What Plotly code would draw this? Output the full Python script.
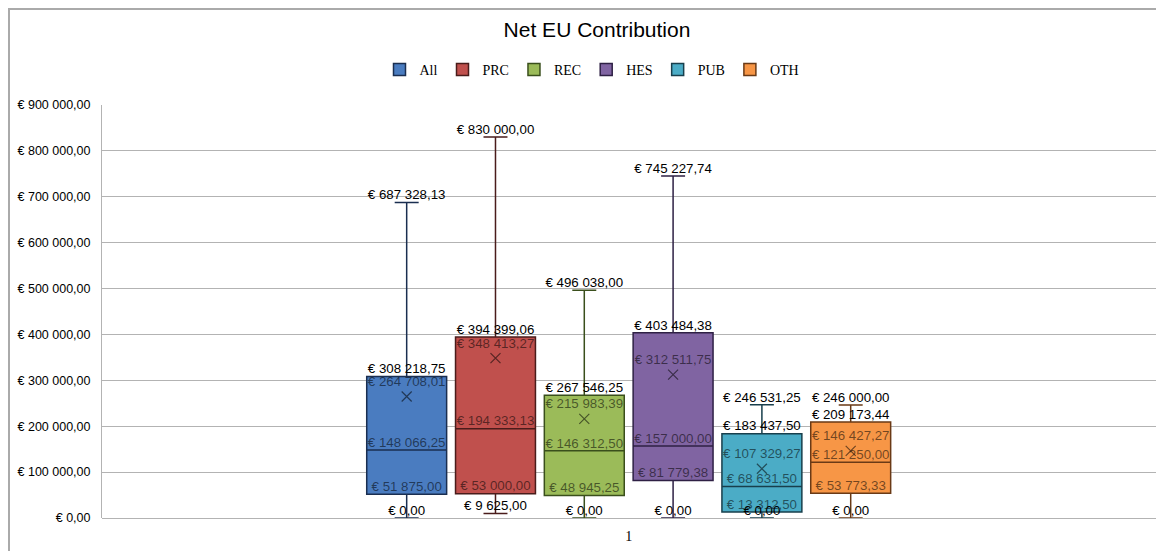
import plotly.graph_objects as go

# ---- data ----
categories = ["1"]
series = ["All", "PRC", "REC", "HES", "PUB", "OTH"]
mins = [0.00, 9625.00, 0.00, 0.00, 0.00, 0.00]
q1s = [51875.00, 53000.00, 48945.25, 81779.38, 13312.50, 53773.33]
medians = [148066.25, 194333.13, 146312.50, 157000.00, 68631.50, 121250.00]
means = [264708.01, 348413.27, 215983.39, 312511.75, 107329.27, 146427.27]
q3s = [308218.75, 394399.06, 267546.25, 403484.38, 183437.50, 209173.44]
maxs = [687328.13, 830000.00, 496038.00, 745227.74, 246531.25, 246000.00]
ytick_vals = [0, 100000, 200000, 300000, 400000, 500000, 600000, 700000, 800000, 900000]

fills = ["#4a7cc0", "#c0504d", "#9bbb59", "#8064a2", "#4bacc6", "#f79646"]
edges = ["#1a2e50", "#4a1c1b", "#3a4f1c", "#2e2044", "#183f4c", "#6a3a16"]


def eur(v):
    s = f"{v:,.2f}".replace(",", " ").replace(".", ",")
    return "€ " + s


fig = go.Figure()

pos = list(range(len(series)))

for i, name in enumerate(series):
    fig.add_trace(go.Box(
        x=[pos[i]], name=name,
        q1=[q1s[i]], median=[medians[i]], q3=[q3s[i]],
        lowerfence=[mins[i]], upperfence=[maxs[i]],
        width=0.9, whiskerwidth=0.3,
        fillcolor=fills[i], line=dict(color=edges[i], width=1.5),
        boxpoints=False, hoverinfo="skip",
    ))

label_font = dict(family="Liberation Sans, Arial, sans-serif", size=13.3)
dim = "rgba(0,0,0,0.55)"

# inner labels (Q1, median)
for vals in (q1s, medians):
    fig.add_trace(go.Scatter(
        x=pos, y=vals, mode="text", text=[eur(v) for v in vals],
        textposition="top center", textfont=dict(color=dim, **label_font),
        showlegend=False, hoverinfo="skip"))

# mean markers with labels
fig.add_trace(go.Scatter(
    x=pos, y=means, mode="markers+text", text=[eur(v) for v in means],
    textposition="top center", textfont=dict(color=dim, **label_font),
    marker=dict(symbol="x-thin-open", size=10, color=dim, line=dict(color=dim, width=1.2)),
    showlegend=False, hoverinfo="skip"))

# outer labels (Q3, max, min)
for vals in (q3s, maxs, mins):
    fig.add_trace(go.Scatter(
        x=pos, y=vals, mode="text", text=[eur(v) for v in vals],
        textposition="top center", textfont=dict(color="black", **label_font),
        showlegend=False, hoverinfo="skip"))

center = (pos[0] + pos[-1]) / 2

W, H = 1156, 543
fig.update_layout(
    width=W, height=H,
    margin=dict(l=94, r=4, t=97, b=33),
    paper_bgcolor="white", plot_bgcolor="white",
    title=dict(text="Net EU Contribution", x=(597 - 8) / W, xref="container", xanchor="center",
               y=1 - (30 - 8) / H, yref="container", yanchor="middle",
               font=dict(family="Liberation Sans, Arial, sans-serif", size=21, color="black")),
    legend=dict(orientation="h", xref="container", yref="container",
                x=(592 - 8) / W, xanchor="center", y=1 - (70 - 8) / H, yanchor="middle",
                font=dict(family="Liberation Serif, serif", size=14, color="black"),
                itemwidth=30, tracegroupgap=0),
    showlegend=True,
    shapes=[dict(type="rect", xref="paper", yref="paper",
                 x0=-0.0879, x1=1.02, y0=-0.2, y1=1.2324,
                 line=dict(color="#aaaaaa", width=2), fillcolor="rgba(0,0,0,0)", layer="below")],
)

fig.update_xaxes(
    range=[center - 5.931, center + 5.983],
    tickvals=[center], ticktext=categories,
    showgrid=False, zeroline=False, showline=False, ticks="",
    ticklabelstandoff=8,
    tickfont=dict(family="Liberation Serif, serif", size=14, color="black"),
)
fig.update_yaxes(
    range=[0, 900000], tickvals=ytick_vals, ticktext=[eur(v) for v in ytick_vals],
    showgrid=True, gridcolor="#b3b3b3", gridwidth=1,
    zeroline=True, zerolinecolor="#b3b3b3", zerolinewidth=1,
    showline=True, linecolor="#b3b3b3", linewidth=1, ticks="",
    ticklabelstandoff=8,
    tickfont=dict(family="Liberation Sans, Arial, sans-serif", size=12.5, color="black"),
)

fig.write_html("out.html")
